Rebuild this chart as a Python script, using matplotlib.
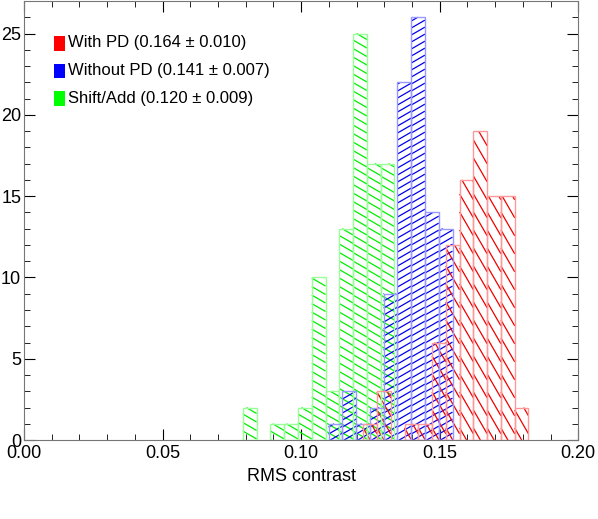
import matplotlib
matplotlib.use("Agg")
import matplotlib.pyplot as plt
import numpy as np
from matplotlib.patches import Rectangle
from matplotlib.collections import LineCollection

width = 0.00497
green_start = 0.0790
green_counts = [2, 0, 1, 1, 2, 10, 3, 13, 25, 17, 17]
blue_start = 0.1099
blue_counts = [1, 3, 1, 2, 9, 22, 26, 14, 13]
red_start = 0.1224
red_counts = [1, 3, 0, 1, 1, 6, 12, 16, 19, 15, 15, 2]

labels = ["With PD (0.164 \u00b1 0.010)", "Without PD (0.141 \u00b1 0.007)", "Shift/Add (0.120 \u00b1 0.009)"]

plt.rcParams['font.family'] = ['Liberation Sans', 'DejaVu Sans']
fig = plt.figure(figsize=(5.98, 5.19), dpi=100)
ax = fig.add_axes([0.040, 0.152, 0.927, 0.846])
ax.set_xlim(0, 0.2)
ax.set_ylim(0, 27)


def hatch_bars(start, counts, edge, line, angle, spacing):
    # hatching done in pixel space, each line clipped to its bar by hand
    t = ax.transData
    inv = t.inverted()
    s = np.tan(np.radians(angle))
    for i, c in enumerate(counts):
        if c == 0:
            continue
        x0 = start + i * width
        ax.add_patch(Rectangle((x0, 0), width, c, facecolor='none', edgecolor=edge, lw=1, zorder=3))
        (px0, py0), (px1, py1) = t.transform([(x0, 0), (x0 + width, c)])
        segs = []
        span = abs(s) * (px1 - px0)
        for b in np.arange(py0 - span, py1 + span, spacing):
            # y = b + s*(x - px0)
            xa = px0 + (py0 - b) / s
            xb = px0 + (py1 - b) / s
            lo = max(px0, min(xa, xb))
            hi = min(px1, max(xa, xb))
            if hi <= lo:
                continue
            p = inv.transform([(lo, b + s * (lo - px0)), (hi, b + s * (hi - px0))])
            segs.append(p)
        ax.add_collection(LineCollection(segs, colors=line, lw=0.9, zorder=2))


hatch_bars(green_start, green_counts, '#99ff99', '#00ee00', -30, 8.5)
hatch_bars(blue_start, blue_counts, '#9999ff', '#0000ee', 30, 7)
hatch_bars(red_start, red_counts, '#ff9999', '#ee0000', -60, 18)

ax.set_xticks(np.arange(0, 0.201, 0.05))
ax.set_xticks(np.arange(0, 0.201, 0.01), minor=True)
ax.set_yticks([0, 5, 10, 15, 20, 25])
ax.set_yticks(np.arange(0, 27, 1), minor=True)
ax.xaxis.set_major_formatter(matplotlib.ticker.FormatStrFormatter('%.2f'))
ax.tick_params(which='both', direction='in', top=True, right=True, labelsize=13)
ax.tick_params(which='major', length=8)
ax.tick_params(which='minor', length=4)
ax.tick_params(axis='y', pad=2)
ax.set_xlabel('RMS contrast', fontsize=13)
for sp in ax.spines.values():
    sp.set_color('#777777')

cols = ['#ff0000', '#0000ff', '#00ff00']
for k, (lab, col) in enumerate(zip(labels, cols)):
    y = 0.905 - k * 0.063
    ax.add_patch(Rectangle((0.055, y - 0.018), 0.02, 0.033, transform=ax.transAxes,
                           facecolor=col, edgecolor='none'))
    ax.text(0.08, y, lab, transform=ax.transAxes, fontsize=12, va='center')

fig.savefig('out.png', dpi=100)
